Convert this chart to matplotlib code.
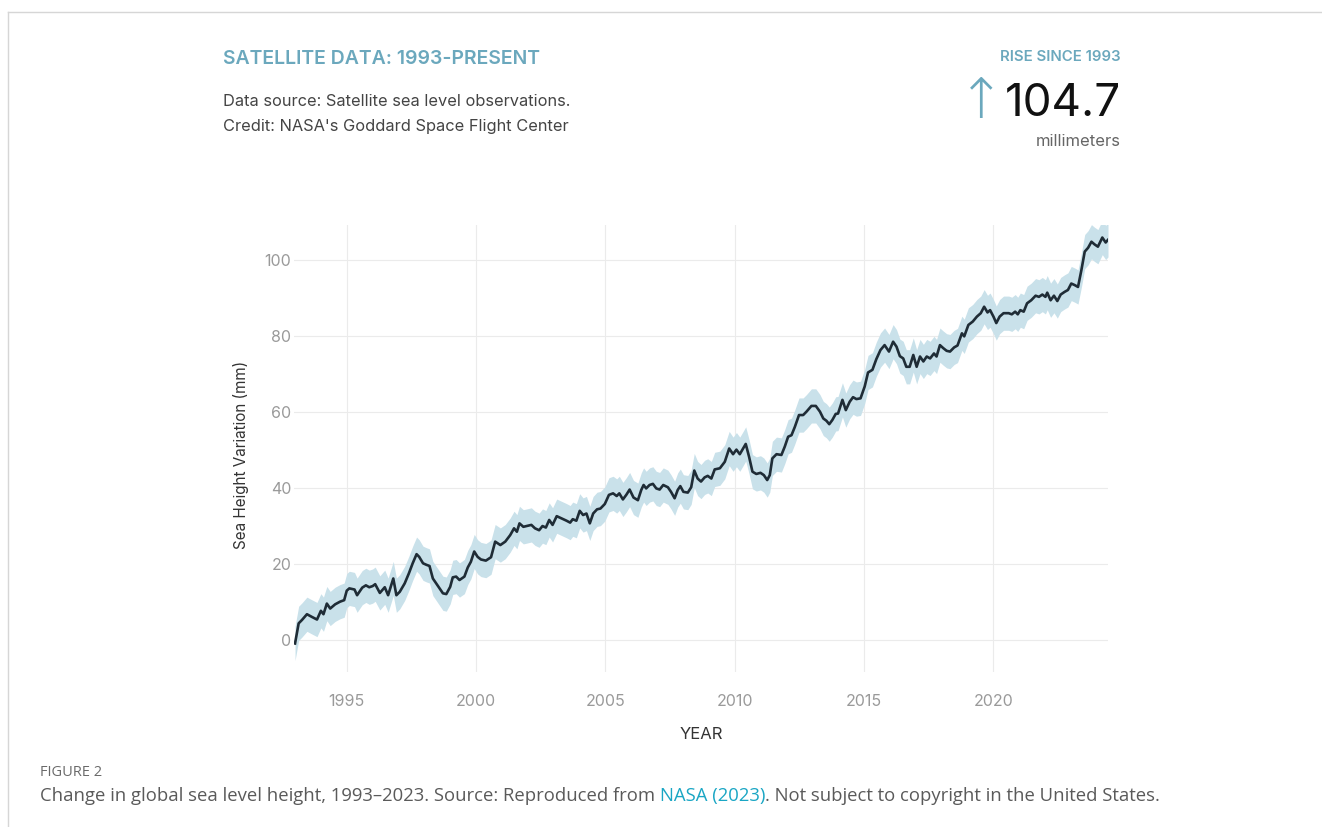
import matplotlib
matplotlib.use("Agg")
import matplotlib.pyplot as plt
from matplotlib.lines import Line2D

# ---------------- data ----------------
years = [
    1993.00, 1993.14, 1993.27, 1993.46, 1993.65, 1993.85, 1994.00, 1994.10, 1994.23, 1994.36,
    1994.55, 1994.74, 1994.90, 1995.00, 1995.10, 1995.30, 1995.40, 1995.60, 1995.74, 1995.87,
    1996.00, 1996.10, 1996.28, 1996.47, 1996.60, 1996.80, 1996.92, 1997.05, 1997.24, 1997.40,
    1997.55, 1997.70, 1997.80, 1997.95, 1998.08, 1998.20, 1998.33, 1998.50, 1998.72, 1998.85,
    1999.00, 1999.10, 1999.23, 1999.36, 1999.55, 1999.68, 1999.80, 1999.93, 2000.06, 2000.19,
    2000.38, 2000.58, 2000.74, 2000.94, 2001.13, 2001.32, 2001.47, 2001.58, 2001.68, 2001.83,
    2001.96, 2002.14, 2002.28, 2002.44, 2002.57, 2002.70, 2002.83, 2002.96, 2003.12, 2003.31,
    2003.50, 2003.64, 2003.74, 2003.88, 2004.01, 2004.14, 2004.27, 2004.40, 2004.53, 2004.68,
    2004.81, 2004.98, 2005.14, 2005.30, 2005.44, 2005.54, 2005.68, 2005.81, 2005.94, 2006.09,
    2006.26, 2006.39, 2006.48, 2006.58, 2006.71, 2006.84, 2006.97, 2007.10, 2007.24, 2007.42,
    2007.54, 2007.68, 2007.80, 2007.90, 2008.02, 2008.19, 2008.32, 2008.44, 2008.57, 2008.70,
    2008.84, 2008.96, 2009.10, 2009.23, 2009.43, 2009.62, 2009.79, 2009.94, 2010.07, 2010.20,
    2010.33, 2010.43, 2010.56, 2010.69, 2010.84, 2011.00, 2011.13, 2011.26, 2011.36, 2011.46,
    2011.62, 2011.81, 2011.94, 2012.07, 2012.20, 2012.33, 2012.49, 2012.65, 2012.78, 2012.97,
    2013.14, 2013.30, 2013.43, 2013.55, 2013.66, 2013.78, 2013.91, 2014.00, 2014.17, 2014.30,
    2014.45, 2014.58, 2014.71, 2014.87, 2015.03, 2015.16, 2015.33, 2015.48, 2015.64, 2015.80,
    2015.97, 2016.13, 2016.26, 2016.39, 2016.52, 2016.64, 2016.77, 2016.91, 2017.04, 2017.17,
    2017.30, 2017.43, 2017.56, 2017.71, 2017.81, 2017.94, 2018.07, 2018.20, 2018.33, 2018.49,
    2018.62, 2018.79, 2018.88, 2019.04, 2019.21, 2019.37, 2019.52, 2019.65, 2019.78, 2019.88,
    2020.01, 2020.12, 2020.25, 2020.40, 2020.60, 2020.72, 2020.85, 2020.95, 2021.05, 2021.18,
    2021.31, 2021.47, 2021.64, 2021.77, 2021.90, 2022.02, 2022.09, 2022.22, 2022.35, 2022.48,
    2022.61, 2022.76, 2022.89, 2023.02, 2023.15, 2023.28, 2023.41, 2023.54, 2023.67, 2023.80,
    2023.92, 2024.05, 2024.22, 2024.35, 2024.44,
]
sea_level_mm = [
    -0.9, 4.4, 5.3, 6.8, 6.1, 5.4, 7.7, 6.8, 9.6, 8.3,
    9.4, 10.1, 10.5, 13.0, 13.6, 13.3, 11.8, 13.8, 14.4, 13.9,
    14.2, 14.7, 12.4, 13.9, 11.8, 16.2, 11.8, 12.7, 14.9, 17.5,
    20.2, 22.6, 21.9, 20.2, 19.8, 19.5, 16.2, 14.5, 12.3, 12.1,
    14.0, 16.5, 16.7, 15.8, 16.7, 19.1, 20.6, 23.3, 21.9, 21.2,
    20.9, 21.8, 25.9, 25.0, 25.9, 27.6, 29.4, 28.5, 30.7, 29.8,
    30.0, 30.3, 29.4, 28.9, 30.0, 29.6, 31.6, 30.3, 32.6, 32.0,
    31.4, 30.9, 31.8, 31.4, 34.0, 32.9, 33.3, 30.7, 33.3, 34.4,
    34.6, 35.8, 38.2, 38.6, 37.9, 38.6, 37.0, 38.2, 39.6, 37.5,
    36.8, 39.5, 40.8, 39.9, 40.8, 41.1, 39.9, 39.6, 40.8, 40.2,
    39.0, 37.3, 39.5, 40.5, 39.0, 38.8, 40.2, 44.6, 42.5, 41.7,
    42.8, 43.2, 42.5, 44.9, 45.2, 46.9, 50.4, 48.9, 50.1, 48.9,
    50.4, 51.6, 48.2, 44.3, 43.7, 44.0, 43.4, 42.1, 43.4, 47.8,
    48.9, 48.7, 50.9, 53.5, 53.9, 56.1, 59.2, 59.2, 60.1, 61.6,
    61.6, 60.1, 58.3, 57.7, 56.8, 57.9, 59.5, 59.6, 63.2, 60.5,
    62.7, 63.9, 63.4, 63.6, 66.7, 70.4, 71.1, 73.9, 76.3, 77.6,
    75.9, 78.5, 77.2, 74.7, 74.1, 71.9, 71.9, 75.0, 71.9, 74.6,
    73.3, 74.6, 74.1, 75.4, 74.6, 77.6, 76.8, 76.1, 75.9, 77.0,
    77.5, 80.7, 79.9, 82.9, 83.8, 85.1, 86.0, 87.7, 86.2, 86.8,
    85.1, 83.4, 85.1, 86.0, 86.0, 85.7, 86.4, 85.7, 86.8, 86.4,
    88.6, 89.4, 90.6, 90.3, 90.9, 90.3, 91.4, 89.4, 90.6, 89.2,
    90.9, 91.6, 92.1, 93.8, 93.4, 92.9, 97.3, 102.2, 103.2, 104.8,
    104.1, 103.5, 105.9, 104.6, 105.3,
]
uncertainty_mm = 4.5
x_ticks = [1995, 2000, 2005, 2010, 2015, 2020]
y_ticks = [0, 20, 40, 60, 80, 100]
rise_value = "104.7"

# ---------------- styling ----------------
TEAL = "#6ba8bd"
LINE = "#1f2c36"
BAND = "#c9e1ea"
FONT = ["Inter", "DejaVu Sans"]
plt.rcParams["font.family"] = FONT

W, H = 1322, 827
fig = plt.figure(figsize=(W / 100, H / 100), dpi=100)
fig.patch.set_facecolor("white")


def fx(px):
    return px / W


def fy(py):
    return 1 - py / H


# frame lines of the page
fig.add_artist(Line2D([fx(8), 1.0], [fy(12), fy(12)], color="#d6d6d6", lw=1.0))
fig.add_artist(Line2D([fx(8), fx(8)], [fy(12), 0.0], color="#d6d6d6", lw=1.0))

ax = fig.add_axes([fx(294), fy(672), fx(1108) - fx(294), fy(225) - fy(672)])
lo = [v - uncertainty_mm for v in sea_level_mm]
hi = [v + uncertainty_mm for v in sea_level_mm]
ax.fill_between(years, lo, hi, color=BAND, lw=0, zorder=2)
ax.plot(years, sea_level_mm, color=LINE, lw=1.9, zorder=3, solid_joinstyle="round")

ax.set_xlim(1992.96, 2024.44)
ax.set_ylim(-8.4, 109.2)
ax.set_xticks(x_ticks)
ax.set_yticks(y_ticks)
ax.grid(True, color="#ebebeb", lw=0.8, zorder=0)
ax.set_axisbelow(True)
for s in ax.spines.values():
    s.set_visible(False)
ax.tick_params(axis="both", length=0, labelsize=11.5, labelcolor="#9a9a9a")
ax.tick_params(axis="x", pad=15.5)
ax.tick_params(axis="y", pad=2)

ax.set_xlabel("YEAR", fontsize=12, color="#333333")
ax.xaxis.set_label_coords(0.5, -0.122)
ax.set_ylabel("Sea Height Variation (mm)", fontsize=11, color="#333333")
ax.yaxis.set_label_coords(-0.055, 0.485)

# header texts
fig.text(fx(223), fy(59), "SATELLITE DATA: 1993-PRESENT", color=TEAL, fontsize=14,
         fontweight="semibold", ha="left", va="center")
fig.text(fx(223), fy(102), "Data source: Satellite sea level observations.", color="#444444",
         fontsize=11.8, ha="left", va="center")
fig.text(fx(223), fy(126), "Credit: NASA's Goddard Space Flight Center", color="#444444",
         fontsize=11.8, ha="left", va="center")

fig.text(fx(1121), fy(57), "RISE SINCE 1993", color=TEAL, fontsize=10.8, fontweight="semibold",
         ha="right", va="center")
fig.text(fx(1121), fy(104), rise_value, color="#111111", fontsize=33, ha="right", va="center")
fig.text(fx(981), fy(103), "\u2191", color=TEAL, fontsize=40, ha="center", va="center",
         family=["DejaVu Sans"], fontweight="light")
fig.text(fx(1121), fy(141), "millimeters", color="#666666", fontsize=12, ha="right", va="center")

# caption
fig.text(fx(40), fy(772), "FIGURE 2", color="#6a6a6a", fontsize=10.5, ha="left", va="center",
         family=["Open Sans", "DejaVu Sans"])
fig.canvas.draw()
renderer = fig.canvas.get_renderer()
parts = [
    ("Change in global sea level height, 1993\u20132023. Source: Reproduced from ", "#5a5a5a"),
    ("NASA (2023)", "#1aa6c4"),
    (". Not subject to copyright in the United States.", "#5a5a5a"),
]
x_px = 40
for txt, col in parts:
    t = fig.text(fx(x_px), fy(796), txt, color=col, fontsize=13.3, ha="left", va="center",
                 family=["Open Sans", "DejaVu Sans"])
    bb = t.get_window_extent(renderer=renderer)
    x_px += bb.width

fig.savefig("out.png", dpi=100)
